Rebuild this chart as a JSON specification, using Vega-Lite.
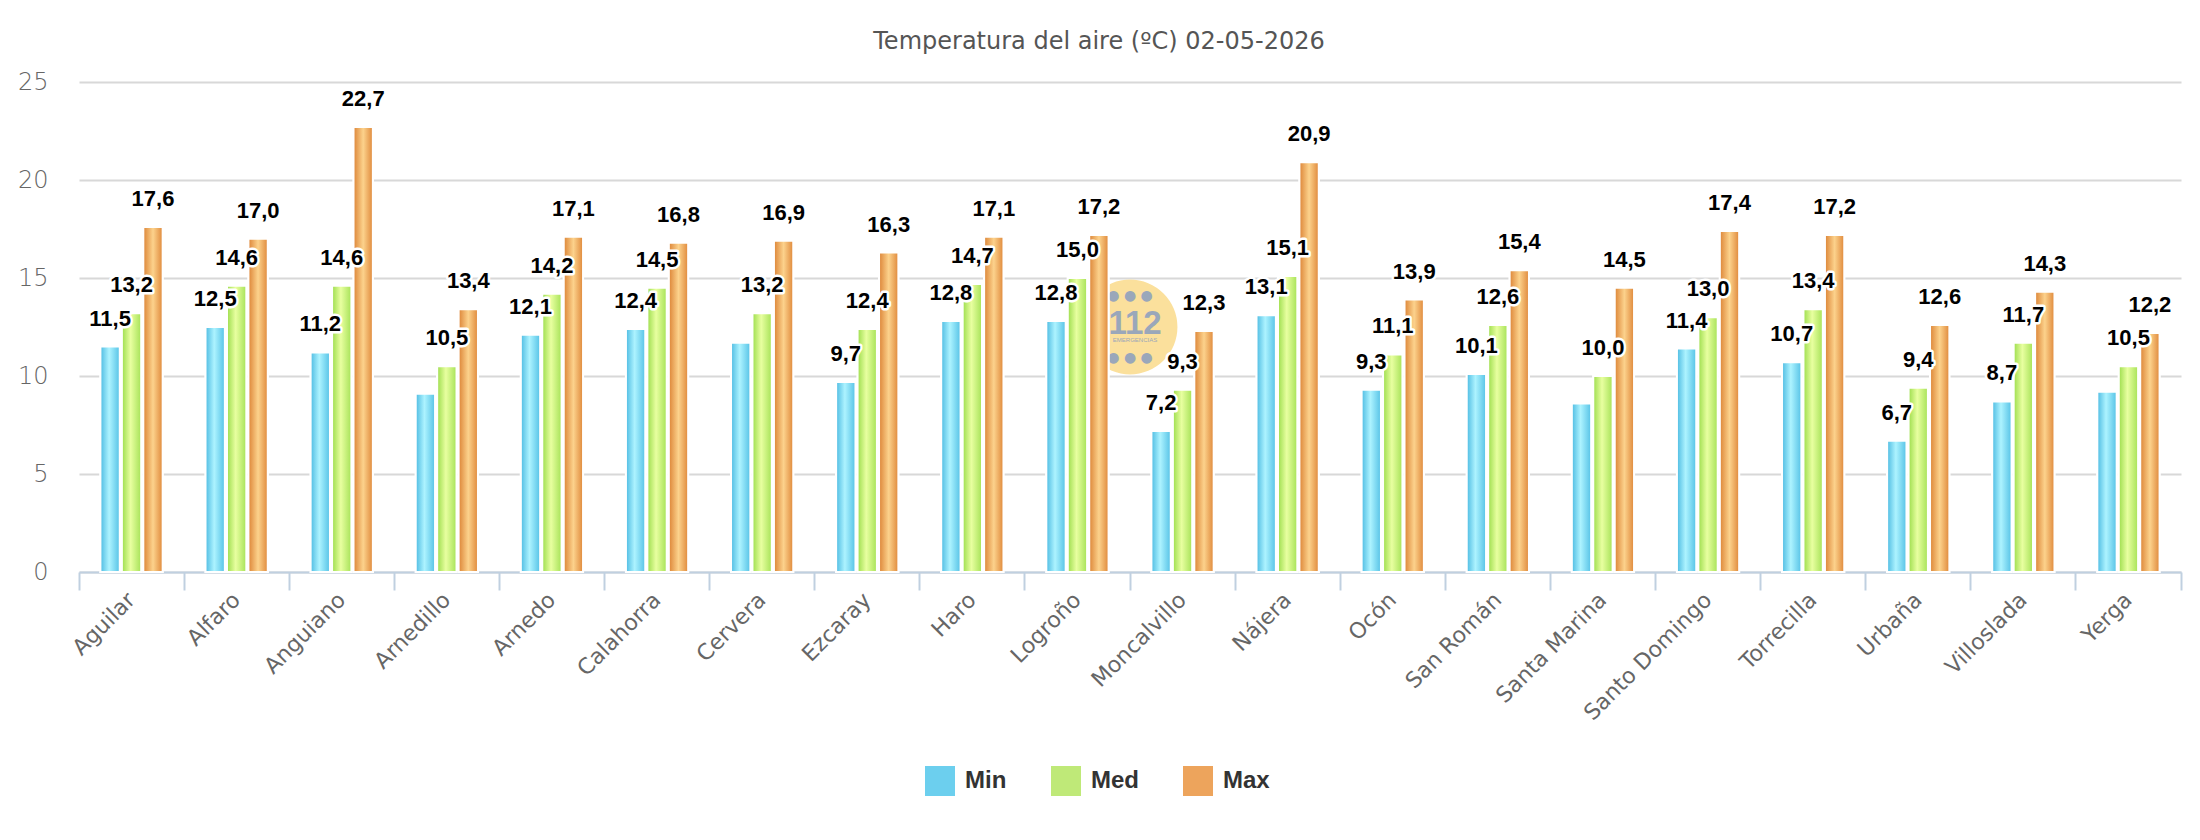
{
  "$schema": "https://vega.github.io/schema/vega-lite/v6.json",
  "width": 2102,
  "height": 490,
  "autosize": {"type": "none"},
  "padding": {"left": 79, "top": 82, "right": 19, "bottom": 268},
  "background": "white",
  "title": {
    "text": "Temperatura del aire (ºC) 02-05-2026",
    "font": "DejaVu Sans",
    "fontSize": 24,
    "fontWeight": "normal",
    "color": "#555555",
    "anchor": "middle",
    "dx": -31,
    "offset": 16
  },
  "config": {
    "view": {"stroke": null},
    "locale": {
      "number": {"decimal": ",", "thousands": ".", "grouping": [3], "currency": ["", " €"]}
    }
  },
  "data": {
    "values": [
      {"estacion": "Aguilar", "serie": "Min", "temp": 11.5},
      {"estacion": "Aguilar", "serie": "Med", "temp": 13.2},
      {"estacion": "Aguilar", "serie": "Max", "temp": 17.6},
      {"estacion": "Alfaro", "serie": "Min", "temp": 12.5},
      {"estacion": "Alfaro", "serie": "Med", "temp": 14.6},
      {"estacion": "Alfaro", "serie": "Max", "temp": 17.0},
      {"estacion": "Anguiano", "serie": "Min", "temp": 11.2},
      {"estacion": "Anguiano", "serie": "Med", "temp": 14.6},
      {"estacion": "Anguiano", "serie": "Max", "temp": 22.7},
      {"estacion": "Arnedillo", "serie": "Min", "temp": 9.1},
      {"estacion": "Arnedillo", "serie": "Med", "temp": 10.5},
      {"estacion": "Arnedillo", "serie": "Max", "temp": 13.4},
      {"estacion": "Arnedo", "serie": "Min", "temp": 12.1},
      {"estacion": "Arnedo", "serie": "Med", "temp": 14.2},
      {"estacion": "Arnedo", "serie": "Max", "temp": 17.1},
      {"estacion": "Calahorra", "serie": "Min", "temp": 12.4},
      {"estacion": "Calahorra", "serie": "Med", "temp": 14.5},
      {"estacion": "Calahorra", "serie": "Max", "temp": 16.8},
      {"estacion": "Cervera", "serie": "Min", "temp": 11.7},
      {"estacion": "Cervera", "serie": "Med", "temp": 13.2},
      {"estacion": "Cervera", "serie": "Max", "temp": 16.9},
      {"estacion": "Ezcaray", "serie": "Min", "temp": 9.7},
      {"estacion": "Ezcaray", "serie": "Med", "temp": 12.4},
      {"estacion": "Ezcaray", "serie": "Max", "temp": 16.3},
      {"estacion": "Haro", "serie": "Min", "temp": 12.8},
      {"estacion": "Haro", "serie": "Med", "temp": 14.7},
      {"estacion": "Haro", "serie": "Max", "temp": 17.1},
      {"estacion": "Logroño", "serie": "Min", "temp": 12.8},
      {"estacion": "Logroño", "serie": "Med", "temp": 15.0},
      {"estacion": "Logroño", "serie": "Max", "temp": 17.2},
      {"estacion": "Moncalvillo", "serie": "Min", "temp": 7.2},
      {"estacion": "Moncalvillo", "serie": "Med", "temp": 9.3},
      {"estacion": "Moncalvillo", "serie": "Max", "temp": 12.3},
      {"estacion": "Nájera", "serie": "Min", "temp": 13.1},
      {"estacion": "Nájera", "serie": "Med", "temp": 15.1},
      {"estacion": "Nájera", "serie": "Max", "temp": 20.9},
      {"estacion": "Ocón", "serie": "Min", "temp": 9.3},
      {"estacion": "Ocón", "serie": "Med", "temp": 11.1},
      {"estacion": "Ocón", "serie": "Max", "temp": 13.9},
      {"estacion": "San Román", "serie": "Min", "temp": 10.1},
      {"estacion": "San Román", "serie": "Med", "temp": 12.6},
      {"estacion": "San Román", "serie": "Max", "temp": 15.4},
      {"estacion": "Santa Marina", "serie": "Min", "temp": 8.6},
      {"estacion": "Santa Marina", "serie": "Med", "temp": 10.0},
      {"estacion": "Santa Marina", "serie": "Max", "temp": 14.5},
      {"estacion": "Santo Domingo", "serie": "Min", "temp": 11.4},
      {"estacion": "Santo Domingo", "serie": "Med", "temp": 13.0},
      {"estacion": "Santo Domingo", "serie": "Max", "temp": 17.4},
      {"estacion": "Torrecilla", "serie": "Min", "temp": 10.7},
      {"estacion": "Torrecilla", "serie": "Med", "temp": 13.4},
      {"estacion": "Torrecilla", "serie": "Max", "temp": 17.2},
      {"estacion": "Urbaña", "serie": "Min", "temp": 6.7},
      {"estacion": "Urbaña", "serie": "Med", "temp": 9.4},
      {"estacion": "Urbaña", "serie": "Max", "temp": 12.6},
      {"estacion": "Villoslada", "serie": "Min", "temp": 8.7},
      {"estacion": "Villoslada", "serie": "Med", "temp": 11.7},
      {"estacion": "Villoslada", "serie": "Max", "temp": 14.3},
      {"estacion": "Yerga", "serie": "Min", "temp": 9.2},
      {"estacion": "Yerga", "serie": "Med", "temp": 10.5},
      {"estacion": "Yerga", "serie": "Max", "temp": 12.2}
    ]
  },
  "encoding": {
    "x": {
      "field": "estacion",
      "type": "nominal",
      "sort": null,
      "scale": {
        "domain": ["Aguilar", "Alfaro", "Anguiano", "Arnedillo", "Arnedo", "Calahorra", "Cervera", "Ezcaray", "Haro", "Logroño", "Moncalvillo", "Nájera", "Ocón", "San Román", "Santa Marina", "Santo Domingo", "Torrecilla", "Urbaña", "Villoslada", "Yerga"],
        "paddingInner": 0,
        "paddingOuter": 0
      },
      "axis": {
        "title": null,
        "grid": false,
        "domainColor": "#c0d0e0",
        "domainWidth": 2,
        "tickColor": "#c0d0e0",
        "tickWidth": 2,
        "tickSize": 18,
        "bandPosition": 1,
        "tickExtra": true,
        "labelAngle": -45,
        "labelAlign": "right",
        "labelBaseline": "middle",
        "labelFont": "DejaVu Sans",
        "labelFontSize": 22,
        "labelColor": "#666666",
        "labelPadding": 6
      }
    },
    "y": {
      "field": "temp",
      "type": "quantitative",
      "scale": {"domain": [0, 25], "nice": false},
      "axis": {
        "title": null,
        "values": [0, 5, 10, 15, 20, 25],
        "grid": true,
        "gridColor": "#d8d8d8",
        "gridWidth": 2,
        "domain": false,
        "ticks": false,
        "labelFont": "DejaVu Sans",
        "labelFontSize": 24,
        "labelFontWeight": 200,
        "labelColor": "#666666",
        "labelPadding": 31
      }
    }
  },
  "layer": [
    {
      "transform": [{"filter": "datum.estacion === 'Moncalvillo' && datum.serie === 'Min'"}],
      "mark": {"type": "point", "filled": true, "shape": "circle", "size": 9000, "color": "#fbe09c", "opacity": 1},
      "encoding": {
        "x": {"field": "estacion", "type": "nominal", "bandPosition": 0},
        "y": {"datum": 12.5, "type": "quantitative"}
      }
    },
    {
      "transform": [{"filter": "datum.estacion === 'Moncalvillo' && datum.serie === 'Min'"}],
      "mark": {"type": "text", "text": "112", "font": "Liberation Sans", "fontWeight": "bold", "fontSize": 33, "color": "#9aa7ba", "baseline": "middle", "align": "center", "dx": 5, "dy": -3},
      "encoding": {
        "x": {"field": "estacion", "type": "nominal", "bandPosition": 0},
        "y": {"datum": 12.5, "type": "quantitative"}
      }
    },
    {
      "transform": [{"filter": "datum.estacion === 'Moncalvillo' && datum.serie === 'Min'"}],
      "mark": {"type": "text", "text": "EMERGENCIAS", "font": "Liberation Sans", "fontSize": 6, "color": "#9aa7ba", "baseline": "middle", "align": "center", "dx": 5, "dy": 13},
      "encoding": {
        "x": {"field": "estacion", "type": "nominal", "bandPosition": 0},
        "y": {"datum": 12.5, "type": "quantitative"}
      }
    },
    {
      "transform": [{"filter": "datum.estacion === 'Moncalvillo' && datum.serie === 'Min'"}],
      "mark": {"type": "text", "text": "●  ●  ●", "font": "DejaVu Sans", "fontSize": 14, "color": "#9aa7ba", "baseline": "middle", "align": "center", "dy": -31},
      "encoding": {
        "x": {"field": "estacion", "type": "nominal", "bandPosition": 0},
        "y": {"datum": 12.5, "type": "quantitative"}
      }
    },
    {
      "transform": [{"filter": "datum.estacion === 'Moncalvillo' && datum.serie === 'Min'"}],
      "mark": {"type": "text", "text": "●  ●  ●", "font": "DejaVu Sans", "fontSize": 14, "color": "#9aa7ba", "baseline": "middle", "align": "center", "dy": 31},
      "encoding": {
        "x": {"field": "estacion", "type": "nominal", "bandPosition": 0},
        "y": {"datum": 12.5, "type": "quantitative"}
      }
    },
    {
      "mark": {"type": "bar", "stroke": "white", "strokeWidth": 2},
      "encoding": {
        "xOffset": {
          "field": "serie",
          "type": "nominal",
          "sort": ["Min", "Med", "Max"],
          "scale": {"domain": ["Min", "Med", "Max"], "paddingInner": 0.1, "paddingOuter": 1.1}
        },
        "color": {
          "field": "serie",
          "type": "nominal",
          "sort": ["Min", "Med", "Max"],
          "scale": {"domain": ["Min", "Med", "Max"], "range": ["#6ccfee", "#bfe978", "#eda45c"]},
          "legend": {
            "title": null,
            "orient": "none",
            "legendX": 846,
            "legendY": 684,
            "direction": "horizontal",
            "padding": 0,
            "symbolType": "square",
            "symbolSize": 900,
            "symbolStrokeWidth": 0,
            "symbolOpacity": 1,
            "labelFont": "Liberation Sans",
            "labelFontWeight": "bold",
            "labelFontSize": 24,
            "labelColor": "#333333",
            "labelOffset": 10,
            "columnPadding": 44
          }
        }
      }
    },
    {
      "transform": [{"filter": "datum.serie === 'Min'"}],
      "mark": {
        "type": "bar",
        "stroke": "white",
        "strokeWidth": 2,
        "fill": {"gradient": "linear", "x1": 0, "y1": 0, "x2": 1, "y2": 0, "stops": [
          {"offset": 0, "color": "#4dbbe2"},
          {"offset": 0.45, "color": "#adf3ff"},
          {"offset": 1, "color": "#55c2e6"}
        ]}
      },
      "encoding": {"xOffset": {"field": "serie", "type": "nominal", "sort": ["Min", "Med", "Max"]}}
    },
    {
      "transform": [{"filter": "datum.serie === 'Med'"}],
      "mark": {
        "type": "bar",
        "stroke": "white",
        "strokeWidth": 2,
        "fill": {"gradient": "linear", "x1": 0, "y1": 0, "x2": 1, "y2": 0, "stops": [
          {"offset": 0, "color": "#9cdd4c"},
          {"offset": 0.45, "color": "#e8ffa0"},
          {"offset": 1, "color": "#a6e257"}
        ]}
      },
      "encoding": {"xOffset": {"field": "serie", "type": "nominal", "sort": ["Min", "Med", "Max"]}}
    },
    {
      "transform": [{"filter": "datum.serie === 'Max'"}],
      "mark": {
        "type": "bar",
        "stroke": "white",
        "strokeWidth": 2,
        "fill": {"gradient": "linear", "x1": 0, "y1": 0, "x2": 1, "y2": 0, "stops": [
          {"offset": 0, "color": "#dc8436"},
          {"offset": 0.5, "color": "#fcd28c"},
          {"offset": 1, "color": "#df883a"}
        ]}
      },
      "encoding": {"xOffset": {"field": "serie", "type": "nominal", "sort": ["Min", "Med", "Max"]}}
    },
    {
      "transform": [
        {"filter": "!(datum.serie === 'Min' && indexof(['Arnedillo', 'Cervera', 'Santa Marina', 'Yerga'], datum.estacion) >= 0)"}
      ],
      "mark": {"type": "text", "font": "Liberation Sans", "fontWeight": "bold", "fontSize": 22, "baseline": "alphabetic", "dy": -21, "color": "white", "stroke": "white", "strokeWidth": 5, "strokeJoin": "round"},
      "encoding": {
        "xOffset": {"field": "serie", "type": "nominal", "sort": ["Min", "Med", "Max"]},
        "text": {"field": "temp", "type": "quantitative", "format": ".1f"}
      }
    },
    {
      "transform": [
        {"filter": "!(datum.serie === 'Min' && indexof(['Arnedillo', 'Cervera', 'Santa Marina', 'Yerga'], datum.estacion) >= 0)"}
      ],
      "mark": {"type": "text", "font": "Liberation Sans", "fontWeight": "bold", "fontSize": 22, "baseline": "alphabetic", "dy": -21, "color": "#000000"},
      "encoding": {
        "xOffset": {"field": "serie", "type": "nominal", "sort": ["Min", "Med", "Max"]},
        "text": {"field": "temp", "type": "quantitative", "format": ".1f"}
      }
    }
  ]
}
